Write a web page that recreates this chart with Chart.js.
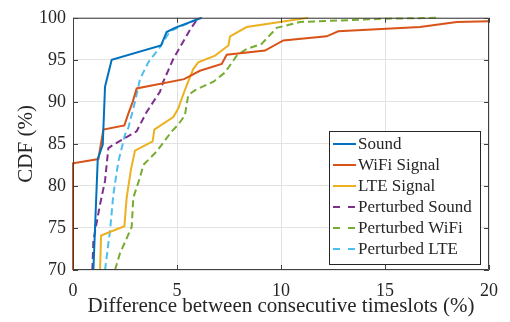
<!DOCTYPE html>
<html lang="en">
<head>
  <meta charset="UTF-8" />
  <title>CDF - Difference between consecutive timeslots</title>
  <script src="https://cdn.jsdelivr.net/npm/chart.js"></script>
  <style>
    html, body { margin: 0; padding: 0; background: #fff; }
    #contenedor { width: 510px; height: 322px; }
  </style>
</head>
<body>
  <div id="contenedor"><canvas id="grafico" width="510" height="322"></canvas></div>

  <script>
    // ---- datos (x = diferencia %, y = CDF %) ----
    const soundX = [0.98, 1.19, 1.43, 1.54, 1.86, 4.23, 4.5, 4.9, 6.19];
    const soundY = [70, 83.2, 84.9, 91.8, 95.0, 96.7, 98.3, 98.8, 100];

    const wifiX = [0, 0, 1.22, 1.46, 2.47, 2.66, 2.87, 3.06, 5.34, 6.1, 7.15, 7.39, 9.23, 10.11, 12.2, 12.75, 16.68, 18.45, 20];
    const wifiY = [70, 82.7, 83.2, 86.7, 87.2, 88.6, 90.0, 91.6, 92.7, 93.7, 94.5, 95.6, 96.1, 97.3, 97.8, 98.4, 98.9, 99.5, 99.6];

    const lteX = [1.30, 1.35, 2.47, 2.58, 2.79, 2.98, 3.83, 3.91, 4.82, 5.06, 5.23, 5.47, 5.78, 6.02, 6.83, 7.47, 7.55, 8.35, 11.31];
    const lteY = [70, 74.1, 75.2, 78.6, 82.0, 84.2, 85.3, 86.7, 88.2, 89.2, 90.4, 92.0, 93.9, 94.7, 95.5, 96.7, 97.8, 98.9, 100];

    const pSoundX = [0.93, 0.98, 1.30, 1.54, 1.70, 1.94, 3.06, 3.54, 4.18, 4.34, 4.82, 5.63, 6.02];
    const pSoundY = [70, 73.5, 77.8, 80.6, 84.5, 84.9, 86.5, 88.8, 91.2, 92.4, 95.1, 98.6, 100];

    const pWifiX = [2.02, 2.26, 2.82, 2.90, 3.22, 3.38, 4.02, 4.75, 5.06, 5.38, 5.54, 5.87, 6.75, 7.31, 7.87, 8.35, 9.07, 9.79, 10.43, 10.91, 15.08, 17.64];
    const pWifiY = [70, 72.0, 75.1, 78.6, 81.0, 82.5, 84.1, 86.5, 87.3, 88.4, 90.8, 91.4, 92.4, 93.5, 95.5, 96.3, 96.9, 98.8, 99.2, 99.5, 99.9, 100];

    const pLteX = [1.54, 1.78, 1.94, 2.18, 2.5, 2.66, 2.98, 3.22, 3.62, 4.18, 4.66, 6.11];
    const pLteY = [70, 74.7, 79.0, 82.9, 86.1, 86.9, 90.0, 92.7, 94.7, 96.5, 98.4, 100];

    const xTicks = [0, 5, 10, 15, 20];
    const yTicks = [70, 75, 80, 85, 90, 95, 100];

    const nombres = ["Sound", "WiFi Signal", "LTE Signal", "Perturbed Sound", "Perturbed WiFi", "Perturbed LTE"];
    const colores = ["#0072BD", "#D95319", "#EDB120", "#7E2F8E", "#77AC30", "#4DBEEE"];

    const fuente = "'Liberation Serif', 'Times New Roman', serif";
    const colorTexto = "#262626";

    function puntos(xs, ys) {
      return xs.map((x, i) => ({ x: x, y: ys[i] }));
    }

    function serie(i, xs, ys, punteada) {
      return {
        label: nombres[i],
        data: puntos(xs, ys),
        borderColor: colores[i],
        backgroundColor: colores[i],
        borderWidth: 2,
        borderDash: punteada ? [7, 4] : [],
        pointRadius: 0,
        tension: 0,
        fill: false,
        clip: false
      };
    }

    // caja de ejes con marcas hacia dentro (estilo MATLAB) + leyenda interior
    const cajaEjes = {
      id: "cajaEjes",
      afterDatasetsDraw(chart) {
        const { ctx, chartArea: a, scales } = chart;
        ctx.save();
        ctx.strokeStyle = "#404040";
        ctx.lineWidth = 1;
        ctx.beginPath();
        ctx.rect(a.left + 0.5, a.top + 0.5, a.right - a.left - 1, a.bottom - a.top - 1);
        const L = 5;
        xTicks.forEach(t => {
          const px = Math.round(scales.x.getPixelForValue(t)) + 0.5;
          ctx.moveTo(px, a.bottom); ctx.lineTo(px, a.bottom - L);
          ctx.moveTo(px, a.top); ctx.lineTo(px, a.top + L);
        });
        yTicks.forEach(t => {
          const py = Math.round(scales.y.getPixelForValue(t)) + 0.5;
          ctx.moveTo(a.left, py); ctx.lineTo(a.left + L, py);
          ctx.moveTo(a.right, py); ctx.lineTo(a.right - L, py);
        });
        ctx.stroke();
        ctx.restore();
      },
      afterDraw(chart) {
        const { ctx } = chart;
        const caja = { x: 329.5, y: 131.5, w: 151, h: 133 };
        ctx.save();
        ctx.fillStyle = "#fff";
        ctx.fillRect(caja.x, caja.y, caja.w, caja.h);
        ctx.strokeStyle = "#262626";
        ctx.lineWidth = 1;
        ctx.strokeRect(caja.x, caja.y, caja.w, caja.h);
        ctx.font = "17px " + fuente;
        ctx.textBaseline = "middle";
        ctx.fillStyle = colorTexto;
        chart.data.datasets.forEach((ds, i) => {
          const y = 144 + i * 21;
          ctx.strokeStyle = ds.borderColor;
          ctx.lineWidth = 2;
          ctx.setLineDash(ds.borderDash.length ? [7, 8] : []);
          ctx.beginPath();
          ctx.moveTo(333, y);
          ctx.lineTo(356, y);
          ctx.stroke();
          ctx.setLineDash([]);
          ctx.fillText(ds.label, 358, y + 1);
        });
        ctx.restore();
      }
    };

    new Chart(document.getElementById("grafico").getContext("2d"), {
      type: "line",
      data: {
        datasets: [
          serie(0, soundX, soundY, false),
          serie(1, wifiX, wifiY, false),
          serie(2, lteX, lteY, false),
          serie(3, pSoundX, pSoundY, true),
          serie(4, pWifiX, pWifiY, true),
          serie(5, pLteX, pLteY, true)
        ]
      },
      options: {
        responsive: false,
        animation: false,
        layout: { padding: { top: 15, right: 21, left: 0, bottom: 0 } },
        plugins: {
          legend: { display: false },
          tooltip: { enabled: false }
        },
        scales: {
          x: {
            type: "linear",
            min: 0,
            max: 20,
            afterBuildTicks: s => { s.ticks = xTicks.map(v => ({ value: v })); },
            afterFit: s => { s.height = 52; },
            grid: { color: "#e3e3e3", drawTicks: false },
            border: { display: false },
            ticks: { color: colorTexto, font: { family: fuente, size: 18 }, padding: 10, maxRotation: 0 },
            title: {
              display: true,
              text: "Difference between consecutive timeslots (%)",
              color: colorTexto,
              font: { family: fuente, size: 21 },
              padding: { top: 0, bottom: 3 }
            }
          },
          y: {
            type: "linear",
            min: 70,
            max: 100,
            afterBuildTicks: s => { s.ticks = yTicks.map(v => ({ value: v })); },
            afterFit: s => { s.width = 73; },
            grid: { color: "#e3e3e3", drawTicks: false },
            border: { display: false },
            ticks: { color: colorTexto, font: { family: fuente, size: 18 }, padding: 7 },
            title: {
              display: true,
              text: "CDF (%)",
              color: colorTexto,
              font: { family: fuente, size: 21 },
              padding: { top: 14, bottom: 0 }
            }
          }
        }
      },
      plugins: [cajaEjes]
    });
  </script>
</body>
</html>
